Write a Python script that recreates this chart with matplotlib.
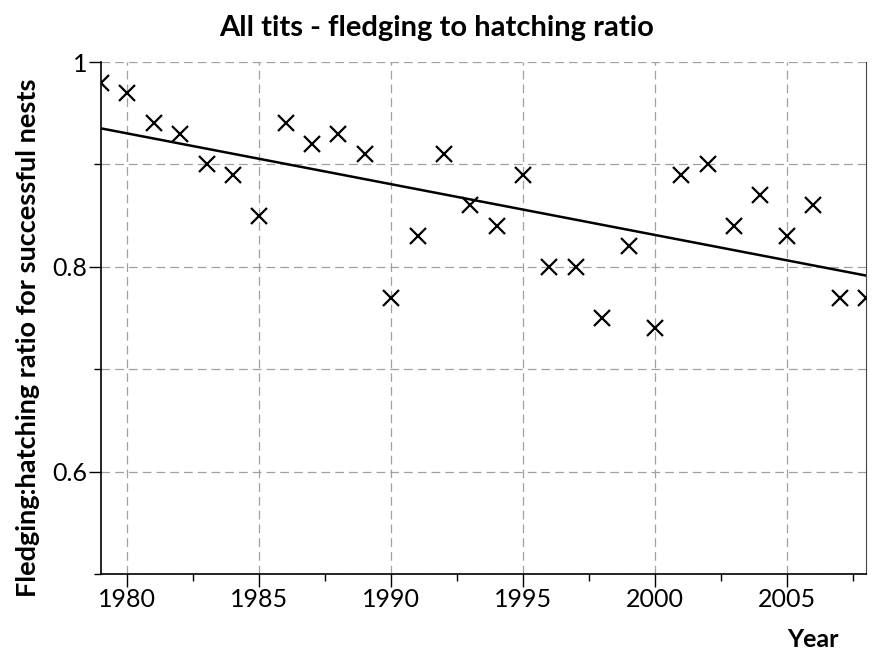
import numpy as np
import matplotlib
matplotlib.use("Agg")
import matplotlib.pyplot as plt
from matplotlib.ticker import MultipleLocator, FuncFormatter

plt.rcParams["font.family"] = ["Lato", "DejaVu Sans"]

# Fledging:hatching ratio per year, all tit species
years = list(range(1979, 2009))
ratio = [0.98, 0.97, 0.94, 0.93, 0.90, 0.89, 0.85, 0.94, 0.92, 0.93,
         0.91, 0.77, 0.83, 0.91, 0.86, 0.84, 0.89, 0.80, 0.80, 0.75,
         0.82, 0.74, 0.89, 0.90, 0.84, 0.87, 0.83, 0.86, 0.77, 0.77]

x = np.array(years)
y = np.array(ratio)
slope, intercept = np.polyfit(x, y, 1)

fig = plt.figure(figsize=(8.74, 6.55), dpi=100)
ax = fig.add_axes([0.1156, 0.1237, 0.8752, 0.7816])

grid_kw = dict(color="#a0a0a0", linewidth=0.9, linestyle=(0, (7, 4)))
ax.grid(True, which="major", axis="x", **grid_kw)
ax.grid(True, which="both", axis="y", **grid_kw)
ax.set_axisbelow(True)

ax.plot(x, y, linestyle="none", marker="x", markersize=12,
        markeredgewidth=1.6, color="black", zorder=3)
ax.plot([1979, 2008], [slope * 1979 + intercept, slope * 2008 + intercept],
        color="black", linewidth=1.8, zorder=3)

ax.set_xlim(1979, 2008)
ax.set_ylim(0.5, 1.0)
ax.xaxis.set_major_locator(MultipleLocator(5))
ax.xaxis.set_minor_locator(MultipleLocator(2.5))
ax.yaxis.set_major_locator(MultipleLocator(0.2))
ax.yaxis.set_minor_locator(MultipleLocator(0.1))
ax.yaxis.set_major_formatter(FuncFormatter(lambda v, p: "%g" % round(v, 2)))

ax.tick_params(which="major", length=9, width=1, labelsize=18, direction="out")
ax.tick_params(which="minor", length=5, width=1, direction="out")
ax.tick_params(axis="x", pad=1)
ax.tick_params(axis="y", pad=1)

ax.spines["top"].set_visible(False)
ax.spines["right"].set_color("#444444")
for s in ("left", "bottom"):
    ax.spines[s].set_linewidth(1.2)

fig.text(0.5, 0.957, "All tits - fledging to hatching ratio",
         ha="center", va="center", fontsize=21, fontweight="bold")
fig.text(0.032, 0.485, "Fledging:hatching ratio for successful nests",
         ha="center", va="center", rotation=90, fontsize=19.5, fontweight="bold")
fig.text(0.96, 0.023, "Year", ha="right", va="center",
         fontsize=18, fontweight="bold")

plt.savefig("out.png", dpi=100)
